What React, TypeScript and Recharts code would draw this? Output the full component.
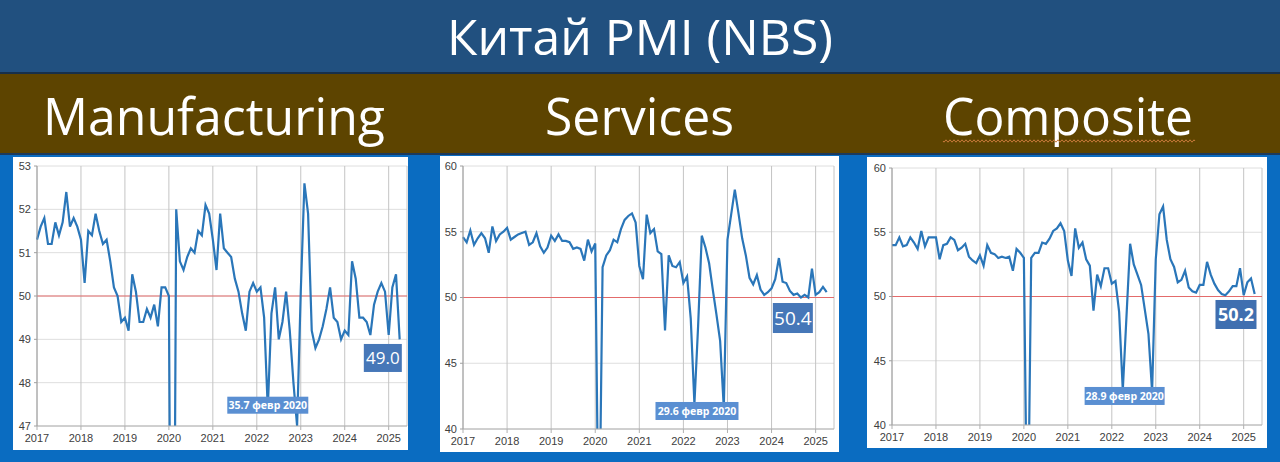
import {
  LineChart,
  Line,
  XAxis,
  YAxis,
  CartesianGrid,
  ReferenceLine,
  ReferenceDot,
} from "recharts";

// monthly, Jan 2017 .. Apr 2025
const YEAR_LABELS = ["2017", "2018", "2019", "2020", "2021", "2022", "2023", "2024", "2025"];
const YEAR_TICKS = [0, 12, 24, 36, 48, 60, 72, 84, 96];

const MANUFACTURING = [
  51.3, 51.6, 51.8, 51.2, 51.2, 51.7, 51.4, 51.7, 52.4, 51.6, 51.8, 51.6,
  51.3, 50.3, 51.5, 51.4, 51.9, 51.5, 51.2, 51.3, 50.8, 50.2, 50.0, 49.4,
  49.5, 49.2, 50.5, 50.1, 49.4, 49.4, 49.7, 49.5, 49.8, 49.3, 50.2, 50.2,
  50.0, 35.7, 52.0, 50.8, 50.6, 50.9, 51.1, 51.0, 51.5, 51.4, 52.1, 51.9,
  51.3, 50.6, 51.9, 51.1, 51.0, 50.9, 50.4, 50.1, 49.6, 49.2, 50.1, 50.3,
  50.1, 50.2, 49.5, 47.4, 49.6, 50.2, 49.0, 49.4, 50.1, 49.2, 48.0, 47.0,
  50.1, 52.6, 51.9, 49.2, 48.8, 49.0, 49.3, 49.7, 50.2, 49.5, 49.4, 49.0,
  49.2, 49.1, 50.8, 50.4, 49.5, 49.5, 49.4, 49.1, 49.8, 50.1, 50.3, 50.1,
  49.1, 50.2, 50.5, 49.0,
];

const SERVICES = [
  54.6, 54.2, 55.1, 54.0, 54.5, 54.9, 54.5, 53.4, 55.4, 54.3, 54.8, 55.0,
  55.3, 54.4, 54.6, 54.8, 54.9, 55.0, 54.0, 54.2, 54.9, 53.9, 53.4, 53.8,
  54.7, 54.3, 54.8, 54.3, 54.3, 54.2, 53.7, 53.8, 53.7, 52.8, 54.4, 53.5,
  54.1, 29.6, 52.3, 53.2, 53.6, 54.4, 54.2, 55.2, 55.9, 56.2, 56.4, 55.7,
  52.4, 51.4, 56.3, 54.9, 55.2, 53.5, 53.3, 47.5, 53.2, 52.4, 52.3, 52.7,
  51.1, 51.6, 48.4, 41.9, 47.8, 54.7, 53.8, 52.6, 50.6, 48.7, 46.7, 41.6,
  54.4, 56.3, 58.2, 56.4, 54.5, 53.2, 51.5, 51.0, 51.7, 50.6, 50.2, 50.4,
  50.7, 51.4, 53.0, 51.2, 51.1, 50.5, 50.2, 50.3, 50.0, 50.2, 50.0, 52.2,
  50.2, 50.4, 50.8, 50.4,
];

const COMPOSITE = [
  54.0, 54.0, 54.6, 53.9, 54.0, 54.6, 54.2, 53.7, 55.1, 53.9, 54.6, 54.6,
  54.6, 52.9, 54.0, 54.1, 54.6, 54.4, 53.6, 53.8, 54.1, 53.1, 52.8, 52.6,
  53.2, 52.4, 54.0, 53.4, 53.3, 53.0, 53.1, 53.0, 53.1, 52.0, 53.7, 53.4,
  53.0, 28.9, 53.0, 53.4, 53.4, 54.2, 54.1, 54.5, 55.1, 55.3, 55.7, 55.1,
  52.8, 51.6, 55.3, 53.8, 54.2, 52.9, 52.4, 48.9, 51.7, 50.8, 52.2, 52.2,
  51.0, 51.2, 48.8, 42.7, 48.4, 54.1, 52.5, 51.7, 50.9, 49.0, 47.1, 42.6,
  52.9, 56.4, 57.0, 54.4, 52.9, 52.3, 51.1, 51.3, 52.0, 50.7, 50.4, 50.3,
  50.9, 50.9, 52.7, 51.7, 51.0, 50.5, 50.2, 50.1, 50.4, 50.8, 50.8, 52.2,
  50.1, 51.1, 51.4, 50.2,
];

const MFG_TICKS = [47, 48, 49, 50, 51, 52, 53];
const SRV_TICKS = [40, 45, 50, 55, 60];

const toRows = (values: number[]) => values.map((v, i) => ({ i, v }));

const LINE_COLOR = "#2a76b9";
const TICK_STYLE = { fontSize: 11, fill: "#404040", fontFamily: "Liberation Sans, Arial, sans-serif" };

function labelBox(text: string, w: number, h: number, fontSize: number, bold: boolean, fill: string) {
  return (props: any) => {
    const { cx, cy } = props;
    return (
      <g>
        <rect x={cx - w / 2} y={cy - h / 2} width={w} height={h} fill={fill} />
        <text
          x={cx}
          y={cy}
          textAnchor="middle"
          dominantBaseline="central"
          fill="#fff"
          fontSize={fontSize}
          fontWeight={bold ? 700 : 400}
          fontFamily="Open Sans, sans-serif"
        >
          {text}
        </text>
      </g>
    );
  };
}

interface Note {
  x: number;
  y: number;
  text: string;
  w: number;
  h: number;
  size: number;
  bold: boolean;
  fill: string;
}

interface PanelProps {
  left: number;
  top: number;
  width: number;
  height: number;
  values: number[];
  domain: [number, number];
  ticks: number[];
  margin: { top: number; right: number; left: number; bottom: number };
  yWidth: number;
  xHeight: number;
  notes: Note[];
}

function Panel(p: PanelProps) {
  const data = toRows(p.values);
  return (
    <div style={{ position: "absolute", left: p.left, top: p.top, width: p.width, height: p.height, background: "#fff" }}>
      <LineChart width={p.width} height={p.height} data={data} margin={p.margin}>
        <CartesianGrid horizontal={true} vertical={false} stroke="#dedede" />
        <CartesianGrid horizontal={false} vertical={true} stroke="#c4c4c4" />
        <XAxis
          dataKey="i"
          type="number"
          domain={[0, 101]}
          ticks={YEAR_TICKS}
          tickFormatter={(v: number) => YEAR_LABELS[v / 12]}
          height={p.xHeight}
          tick={TICK_STYLE}
          tickSize={4}
          tickMargin={4}
          stroke="#b0b0b0"
          interval={0}
        />
        <YAxis
          type="number"
          domain={p.domain}
          ticks={p.ticks}
          allowDataOverflow={true}
          width={p.yWidth}
          tick={TICK_STYLE}
          tickSize={3}
          tickMargin={3}
          stroke="#a0a0a0"
          interval={0}
        />
        <ReferenceLine y={50} stroke="#e36b6b" strokeWidth={1} />
        <Line
          type="linear"
          dataKey="v"
          stroke={LINE_COLOR}
          strokeWidth={2.2}
          dot={false}
          isAnimationActive={false}
        />
        {p.notes.map((n) => (
          <ReferenceDot
            key={n.text}
            x={n.x}
            y={n.y}
            r={1}
            shape={labelBox(n.text, n.w, n.h, n.size, n.bold, n.fill)}
          />
        ))}
      </LineChart>
    </div>
  );
}

function Squiggle({ x, y, w }: { x: number; y: number; w: number }) {
  let d = `M${x},${y}`;
  for (let k = 0; k * 2 < w; k++) {
    d += ` l1,${k % 2 === 0 ? 1.2 : -1.2}`;
    d += ` l1,${k % 2 === 0 ? -1.2 : 1.2}`;
  }
  return <path d={d} fill="none" stroke="#c8793a" strokeWidth={1} />;
}

export default function App() {
  return (
    <div
      style={{
        position: "absolute",
        left: 0,
        top: 0,
        width: 1280,
        height: 462,
        background: "#0a6cc1",
        overflow: "hidden",
      }}
    >
      <svg width={1280} height={156} style={{ position: "absolute", left: 0, top: 0 }}>
        <rect x={0} y={0} width={1280} height={72} fill="#21507f" />
        <rect x={0} y={72} width={1280} height={2} fill="#162f4a" />
        <rect x={0} y={74} width={1280} height={79} fill="#5d4400" />
        <rect x={0} y={153} width={1280} height={2} fill="#1d3a5c" />
        <text
          x={447}
          y={55}
          fontSize={49}
          fill="#fff"
          fontFamily="Open Sans, sans-serif"
          textLength={386}
          lengthAdjust="spacingAndGlyphs"
        >
          Китай PMI (NBS)
        </text>
        <text
          x={43}
          y={135}
          fontSize={52}
          fill="#fff"
          fontFamily="Open Sans, sans-serif"
          textLength={342}
          lengthAdjust="spacingAndGlyphs"
        >
          Manufacturing
        </text>
        <text
          x={545}
          y={135}
          fontSize={52}
          fill="#fff"
          fontFamily="Open Sans, sans-serif"
          textLength={189}
          lengthAdjust="spacingAndGlyphs"
        >
          Services
        </text>
        <text
          x={943}
          y={135}
          fontSize={52}
          fill="#fff"
          fontFamily="Open Sans, sans-serif"
          textLength={250}
          lengthAdjust="spacingAndGlyphs"
        >
          Composite
        </text>
        <Squiggle x={943} y={141} w={252} />
      </svg>

      <Panel
        left={13}
        top={157}
        width={395}
        height={293}
        values={MANUFACTURING}
        domain={[47, 53]}
        ticks={MFG_TICKS}
        margin={{ top: 9, right: 1, left: 0, bottom: 0 }}
        yWidth={24}
        xHeight={24}
        notes={[
          { x: 94.4, y: 48.57, text: "49.0", w: 38, h: 28, size: 17, bold: false, fill: "#4677b8" },
          { x: 63, y: 47.48, text: "35.7 февр 2020", w: 81, h: 17, size: 10.5, bold: true, fill: "#5a8fd2" },
        ]}
      />
      <Panel
        left={440}
        top={156}
        width={399}
        height={296}
        values={SERVICES}
        domain={[40, 60]}
        ticks={SRV_TICKS}
        margin={{ top: 10, right: 5, left: 0, bottom: 0 }}
        yWidth={23}
        xHeight={23}
        notes={[
          { x: 89.8, y: 48.44, text: "50.4", w: 40, h: 30, size: 19, bold: false, fill: "#4677b8" },
          { x: 63.7, y: 41.37, text: "29.6 февр 2020", w: 83, h: 18, size: 10.5, bold: true, fill: "#5a8fd2" },
        ]}
      />
      <Panel
        left={867}
        top={157}
        width={400}
        height={291}
        values={COMPOSITE}
        domain={[40, 60]}
        ticks={SRV_TICKS}
        margin={{ top: 11, right: 5, left: 0, bottom: 0 }}
        yWidth={25}
        xHeight={23}
        notes={[
          { x: 93.9, y: 48.6, text: "50.2", w: 41, h: 29, size: 18, bold: true, fill: "#3f6fb0" },
          { x: 63.5, y: 42.26, text: "28.9 февр 2020", w: 80, h: 18, size: 10.5, bold: true, fill: "#5a8fd2" },
        ]}
      />
    </div>
  );
}
